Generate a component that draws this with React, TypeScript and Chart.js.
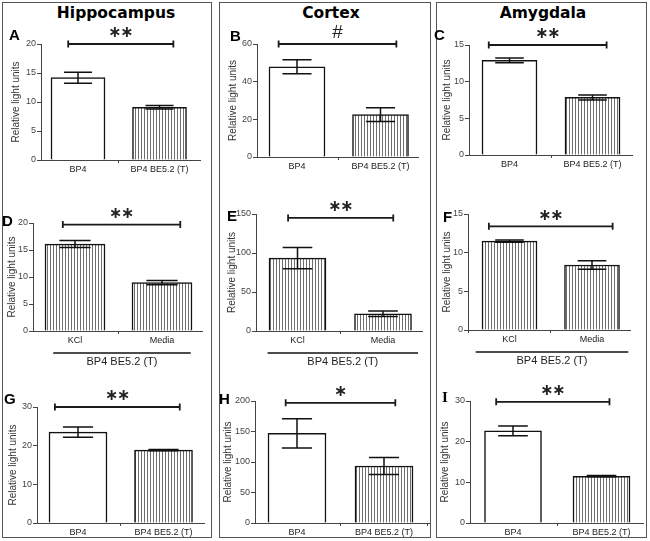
import React, { useEffect, useRef } from "react";
import { Chart, registerables } from "chart.js";

Chart.register(...registerables);

// ---------- data ----------
const treatmentLabels = ["BP4", "BP4 BE5.2 (T)"];
const stimulusLabels = ["KCl", "Media"];
const groupLabel = "BP4 BE5.2 (T)";
const regionTitles = ["Hippocampus", "Cortex", "Amygdala"];
const panelLetters = ["A", "B", "C", "D", "E", "F", "G", "H", "I"];
const yAxisTitle = "Relative light units";

const meanA = [14.2, 9.1];
const errA = [0.95, 0.3];
const meanB = [47.9, 22.5];
const errB = [3.7, 3.7];
const meanC = [12.9, 7.85];
const errC = [0.32, 0.34];
const meanD = [16.1, 8.95];
const errD = [0.65, 0.4];
const meanE = [93.4, 22];
const errE = [13.7, 3.5];
const meanF = [11.5, 8.4];
const errF = [0.15, 0.56];
const meanG = [23.5, 18.85];
const errG = [1.35, 0.15];
const meanH = [147, 93.5];
const errH = [24, 14];
const meanI = [22.65, 11.5];
const errI = [1.2, 0.15];

const yMaxes = [20, 60, 15, 20, 150, 15, 30, 200, 30];
const ySteps = [5, 20, 5, 5, 50, 5, 10, 50, 10];
const sigMarks = ["**", "#", "**", "**", "**", "**", "**", "*", "**"];
const sigLevels = [20, 60, 15, 19.7, 145, 13.4, 30, 197, 29.8];
const sigFrom = [-0.12, -0.22, -0.25, -0.14, -0.11, -0.25, -0.27, -0.13, -0.19];
const sigTo = [1.17, 1.19, 1.17, 1.21, 1.12, 1.25, 1.19, 1.13, 1.09];
const groupFrom = [-0.25, -0.35, -0.41];
const groupTo = [1.33, 1.41, 1.44];

const means = [meanA, meanB, meanC, meanD, meanE, meanF, meanG, meanH, meanI];
const errs = [errA, errB, errC, errD, errE, errF, errG, errH, errI];

// ---------- layout (page pixels) ----------
// L/R/T/B: plot area; c0/c1: bar centres; td: axis-title distance; bw: bar width
const PLOTS = [
  { L: 41, T: 44, R: 200, B: 160, c0: 78, c1: 159.5, td: 25, bw: 54 },
  { L: 257, T: 44, R: 418, B: 157, c0: 297, c1: 380.5, td: 24, bw: 56 },
  { L: 469, T: 45, R: 632, B: 155, c0: 509.5, c1: 592.5, td: 22, bw: 55 },
  { L: 33, T: 223, R: 202, B: 331, c0: 75, c1: 162, td: 21, bw: 60 },
  { L: 256, T: 214, R: 422, B: 331, c0: 297.5, c1: 383, td: 24, bw: 57 },
  { L: 468, T: 214, R: 630, B: 330, c0: 509.5, c1: 592, td: 21, bw: 55 },
  { L: 37, T: 407, R: 204, B: 523, c0: 78, c1: 163.5, td: 24, bw: 58 },
  { L: 255, T: 401, R: 429, B: 523, c0: 297, c1: 384, td: 27, bw: 58 },
  { L: 470, T: 401, R: 643, B: 523, c0: 513, c1: 601.5, td: 25, bw: 57 },
];
const LETTERS = [
  { x: 9, y: 29 }, { x: 230, y: 30 }, { x: 434, y: 29 },
  { x: 2, y: 215 }, { x: 227, y: 210 }, { x: 443, y: 211 },
  { x: 4, y: 393 }, { x: 219, y: 393 }, { x: 442, y: 392 },
];
const BOXES = [
  { x: 2, w: 210 },
  { x: 219, w: 212 },
  { x: 436, w: 211 },
];
const TITLE_CENTERS = [116, 331, 543];

const SANS = "'Liberation Sans', Arial, sans-serif";

function makeHatch(): CanvasPattern | string {
  const c = document.createElement("canvas");
  c.width = 3;
  c.height = 6;
  const g = c.getContext("2d");
  if (!g) return "#bbbbbb";
  g.fillStyle = "#ffffff";
  g.fillRect(0, 0, 3, 6);
  g.fillStyle = "#6e6e6e";
  g.fillRect(0, 0, 1, 6);
  return g.createPattern(c, "repeat") || "#bbbbbb";
}

function Panel({ idx }: { idx: number }) {
  const ref = useRef<HTMLCanvasElement | null>(null);
  const p = PLOTS[idx];
  const isGroup = idx >= 3 && idx <= 5;
  const yw = p.td + 10;
  const padTop = 32;
  const padRight = 16;
  const xh = isGroup ? 44 : 16;
  const width = yw + (p.R - p.L) + padRight;
  const height = padTop + (p.B - p.T) + xh;
  const left = p.L - yw;
  const top = p.T - padTop;

  useEffect(() => {
    const canvas = ref.current;
    if (!canvas) return;
    const hatch = makeHatch();
    const labels = isGroup ? stimulusLabels : treatmentLabels;
    const fills = isGroup ? [hatch, hatch] : ["#ffffff", hatch];
    const unit = p.c1 - p.c0;
    const xMin = (p.L - p.c0) / unit;
    const xMax = 1 + (p.R - p.c1) / unit;
    const errors = errs[idx];
    const points = means[idx].map((v, i) => ({ x: i, y: v }));

    const overlay = {
      id: "overlay" + idx,
      afterDatasetsDraw(chart: any) {
        const { ctx, scales } = chart;
        const y = scales.y;
        const meta = chart.getDatasetMeta(0);
        ctx.save();
        ctx.strokeStyle = "#111";
        ctx.lineWidth = 1.5;
        meta.data.forEach((el: any, i: number) => {
          const m = means[idx][i];
          const e = errors[i];
          const yt = y.getPixelForValue(m + e);
          const yb = y.getPixelForValue(m - e);
          const hw = el.width * 0.26;
          ctx.beginPath();
          ctx.moveTo(el.x, yt);
          ctx.lineTo(el.x, yb);
          ctx.moveTo(el.x - hw, yt);
          ctx.lineTo(el.x + hw, yt);
          ctx.moveTo(el.x - hw, yb);
          ctx.lineTo(el.x + hw, yb);
          ctx.stroke();
        });
        ctx.restore();
      },
      afterDraw(chart: any) {
        const { ctx, scales } = chart;
        const x = scales.x;
        const y = scales.y;
        const yy = y.getPixelForValue(sigLevels[idx]);
        const x1 = x.getPixelForValue(sigFrom[idx]);
        const x2 = x.getPixelForValue(sigTo[idx]);
        ctx.save();
        ctx.strokeStyle = "#1a1a1a";
        ctx.lineWidth = 1.8;
        ctx.beginPath();
        ctx.moveTo(x1, yy);
        ctx.lineTo(x2, yy);
        ctx.moveTo(x1, yy - 3.5);
        ctx.lineTo(x1, yy + 3.5);
        ctx.moveTo(x2, yy - 3.5);
        ctx.lineTo(x2, yy + 3.5);
        ctx.stroke();
        const mark = sigMarks[idx];
        const cx = (x1 + x2) / 2;
        const cy = yy - 11;
        ctx.fillStyle = "#222";
        ctx.textAlign = "center";
        ctx.textBaseline = "middle";
        if (mark === "#") {
          ctx.font = "19px " + SANS;
          ctx.fillText("#", cx, cy);
        } else {
          ctx.font = "bold 16px 'DejaVu Sans'";
          const n = mark.length;
          for (let k = 0; k < n; k++) {
            ctx.fillText("\u2217", cx + (k - (n - 1) / 2) * 12, cy);
          }
        }
        if (isGroup) {
          const g = idx - 3;
          const gx1 = x.getPixelForValue(groupFrom[g]);
          const gx2 = x.getPixelForValue(groupTo[g]);
          const gy = chart.chartArea.bottom + 22;
          ctx.strokeStyle = "#111";
          ctx.lineWidth = 1.6;
          ctx.beginPath();
          ctx.moveTo(gx1, gy);
          ctx.lineTo(gx2, gy);
          ctx.stroke();
          ctx.font = "11px " + SANS;
          ctx.fillStyle = "#222";
          ctx.fillText(groupLabel, (gx1 + gx2) / 2, gy + 9);
        }
        ctx.restore();
      },
    };

    const chart = new Chart(canvas, {
      type: "bar",
      data: {
        datasets: [
          {
            data: points,
            backgroundColor: fills as any,
            borderColor: "#111",
            borderWidth: 1.5,
            barThickness: p.bw,
          },
        ],
      },
      options: {
        animation: false,
        responsive: false,
        maintainAspectRatio: false,
        devicePixelRatio: 1,
        events: [],
        layout: { padding: { left: 0, top: padTop, right: padRight, bottom: 0 } },
        plugins: {
          legend: { display: false },
          tooltip: { enabled: false },
          title: { display: false },
        },
        scales: {
          x: {
            type: "linear",
            min: xMin,
            max: xMax,
            offset: false,
            afterBuildTicks: (s: any) => {
              s.ticks = [{ value: 0 }, { value: 1 }];
            },
            grid: {
              display: true,
              drawOnChartArea: false,
              drawTicks: true,
              tickLength: 3,
              color: "#444",
              lineWidth: 1,
            },
            border: { display: true, color: "#444", width: 1 },
            ticks: {
              padding: 1,
              color: "#222",
              font: { family: SANS, size: 9 },
              maxRotation: 0,
              autoSkip: false,
              callback: (v: any) => labels[Math.round(Number(v))] ?? "",
            },
            afterFit: (s: any) => {
              s.height = xh;
            },
          },
          y: {
            min: 0,
            max: yMaxes[idx],
            ticks: {
              stepSize: ySteps[idx],
              color: "#444",
              font: { family: SANS, size: 9 },
              padding: 1,
            },
            grid: {
              display: true,
              drawOnChartArea: false,
              drawTicks: true,
              tickLength: 4,
              color: "#444",
            },
            border: { display: true, color: "#444", width: 1 },
            title: {
              display: true,
              text: yAxisTitle,
              color: "#333",
              font: { family: SANS, size: 10 },
              padding: { top: 4, bottom: 0 },
            },
            afterFit: (s: any) => {
              s.width = yw;
            },
          },
        },
      },
      plugins: [overlay],
    } as any);
    return () => chart.destroy();
  }, []);

  return (
    <canvas
      ref={ref}
      width={width}
      height={height}
      style={{ position: "absolute", left, top, width, height }}
    />
  );
}

export default function App() {
  return (
    <div
      style={{
        position: "absolute",
        left: 0,
        top: 0,
        width: 650,
        height: 541,
        background: "#ffffff",
        overflow: "hidden",
      }}
    >
      {BOXES.map((b, i) => (
        <div
          key={"box" + i}
          style={{
            position: "absolute",
            left: b.x,
            top: 2,
            width: b.w,
            height: 536,
            border: "1px solid #555",
            boxSizing: "border-box",
          }}
        />
      ))}
      {regionTitles.map((t, i) => (
        <div
          key={"t" + i}
          style={{
            position: "absolute",
            left: TITLE_CENTERS[i] - 100,
            top: 4,
            width: 200,
            textAlign: "center",
            fontFamily: "'DejaVu Sans', Verdana, sans-serif",
            fontWeight: "bold",
            fontSize: 15.5,
            lineHeight: "normal",
            color: "#000",
            whiteSpace: "nowrap",
          }}
        >
          {t}
        </div>
      ))}
      {PLOTS.map((_, i) => (
        <Panel key={"p" + i} idx={i} />
      ))}
      {panelLetters.map((l, i) => (
        <div
          key={"l" + i}
          style={{
            position: "absolute",
            left: LETTERS[i].x,
            top: LETTERS[i].y - 3,
            fontFamily: l === "I" ? "'Liberation Serif', 'Times New Roman', serif" : SANS,
            fontWeight: "bold",
            fontSize: 15,
            lineHeight: "normal",
            color: "#000",
          }}
        >
          {l}
        </div>
      ))}
    </div>
  );
}
